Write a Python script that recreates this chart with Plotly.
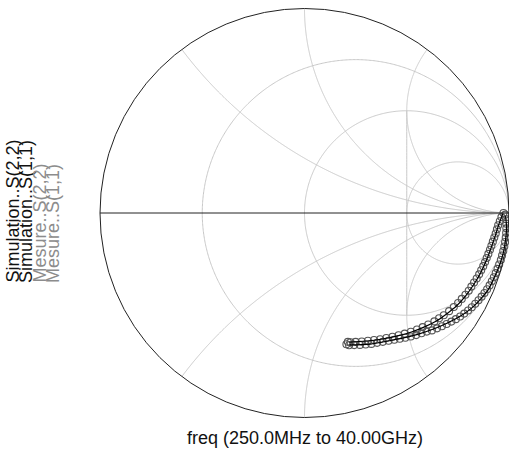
import numpy as np
import plotly.graph_objects as go

# Reflection coefficients (real, imag) from 250 MHz to 40 GHz
sim_s11_re = [0.970, 0.949, 0.934, 0.914, 0.890, 0.861, 0.826, 0.787, 0.743,
              0.694, 0.645, 0.587, 0.523, 0.455, 0.381, 0.303, 0.220]
sim_s11_im = [-0.003, -0.059, -0.108, -0.166, -0.230, -0.293, -0.352, -0.406, -0.455,
              -0.494, -0.528, -0.557, -0.582, -0.601, -0.616, -0.626, -0.631]

sim_s22_re = [0.983, 0.988, 0.983, 0.973, 0.954, 0.929, 0.900, 0.861, 0.817,
              0.763, 0.699, 0.631, 0.557, 0.484, 0.406, 0.323, 0.220]
sim_s22_im = [-0.015, -0.073, -0.132, -0.191, -0.254, -0.313, -0.372, -0.421, -0.465,
              -0.504, -0.538, -0.567, -0.592, -0.611, -0.626, -0.641, -0.645]

mes_s11_re = [0.973, 0.963, 0.955, 0.947, 0.941, 0.935, 0.928, 0.921, 0.914, 0.907,
              0.899, 0.891, 0.883, 0.874, 0.864, 0.854, 0.842, 0.829, 0.816, 0.803,
              0.787, 0.769, 0.751, 0.730, 0.707, 0.681, 0.658, 0.635, 0.605, 0.578,
              0.550, 0.520, 0.490, 0.460, 0.430, 0.400, 0.370, 0.340, 0.310, 0.280,
              0.250, 0.225, 0.212]
mes_s11_im = [0.000, -0.020, -0.040, -0.060, -0.080, -0.100, -0.120, -0.140, -0.160, -0.180,
              -0.200, -0.220, -0.240, -0.260, -0.280, -0.300, -0.320, -0.340, -0.360, -0.380,
              -0.400, -0.420, -0.440, -0.460, -0.480, -0.500, -0.515, -0.530, -0.545, -0.558,
              -0.570, -0.581, -0.590, -0.598, -0.605, -0.611, -0.617, -0.621, -0.625, -0.628,
              -0.630, -0.632, -0.630]

mes_s22_re = [0.982, 0.985, 0.987, 0.987, 0.986, 0.984, 0.981, 0.977, 0.972, 0.966,
              0.960, 0.952, 0.944, 0.935, 0.926, 0.916, 0.905, 0.893, 0.880, 0.866,
              0.851, 0.835, 0.818, 0.800, 0.781, 0.761, 0.740, 0.718, 0.695, 0.672,
              0.648, 0.623, 0.598, 0.572, 0.546, 0.520, 0.493, 0.466, 0.439, 0.411,
              0.383, 0.355, 0.327, 0.299, 0.271, 0.243, 0.218, 0.205]
mes_s22_im = [-0.008, -0.030, -0.052, -0.075, -0.097, -0.120, -0.142, -0.164, -0.186, -0.208,
              -0.230, -0.252, -0.273, -0.294, -0.314, -0.334, -0.354, -0.373, -0.391, -0.409,
              -0.427, -0.444, -0.461, -0.477, -0.492, -0.506, -0.519, -0.531, -0.543, -0.554,
              -0.564, -0.574, -0.580, -0.588, -0.597, -0.604, -0.610, -0.615, -0.620, -0.625,
              -0.630, -0.635, -0.640, -0.643, -0.645, -0.646, -0.647, -0.642]

# Smith grid values (normalized resistance / reactance)
resistance_grid = [1 / 3, 1, 3]
reactance_grid = [-2, -1, -0.5, 0.5, 1, 2]
# extra grid segment along Re(Gamma) = 0.5, between these Im(Gamma) limits
segment_re = 0.5
segment_im = [-0.5, 0.5]

legend_labels = ["Simulation..S(2,2)", "Simulation..S(1,1)", "Mesure..S(2,2)", "Mesure..S(1,1)"]
legend_colors = ["#111111", "#111111", "#8c8c8c", "#8c8c8c"]
x_title = "freq (250.0MHz to 40.00GHz)"

GRID = "#c8c8c8"


def gamma_to_z(g):
    g = np.asarray(g, dtype=complex)
    z = (1 + g) / (1 - g)
    return z.real, z.imag


def grid_trace(g):
    zr, zi = gamma_to_z(g)
    return go.Scattersmith(real=zr, imag=zi, mode="lines",
                           line=dict(color=GRID, width=1),
                           showlegend=False, hoverinfo="skip")


W, H = 509, 455
ML, MR, MT, MB = 100, 0, 8, 37
PW, PH = W - ML - MR, H - MT - MB

fig = go.Figure()

# constant-resistance circles
phi = np.linspace(0.004, 2 * np.pi - 0.004, 721)
for r in resistance_grid:
    c, rho = r / (1 + r), 1 / (1 + r)
    fig.add_trace(grid_trace(c + rho * np.exp(1j * phi)))

# constant-reactance arcs, from the outer rim to the open-circuit point
t = np.tan(np.linspace(0, np.pi / 2 - 0.002, 500))
for x in reactance_grid:
    z = t + 1j * x
    fig.add_trace(grid_trace((z - 1) / (z + 1)))

# straight segment at Re(Gamma) = 0.5
seg = segment_re + 1j * np.linspace(segment_im[0], segment_im[1], 60)
fig.add_trace(grid_trace(seg))

# measured data (open markers)
for re, im in [(mes_s11_re, mes_s11_im), (mes_s22_re, mes_s22_im)]:
    zr, zi = gamma_to_z(np.asarray(re) + 1j * np.asarray(im))
    fig.add_trace(go.Scattersmith(
        real=zr, imag=zi, mode="markers",
        marker=dict(symbol="circle-open", size=7, color="#555555", line=dict(width=1.1)),
        showlegend=False, hoverinfo="skip"))

# simulated data (solid lines)
for re, im in [(sim_s11_re, sim_s11_im), (sim_s22_re, sim_s22_im)]:
    zr, zi = gamma_to_z(np.asarray(re) + 1j * np.asarray(im))
    fig.add_trace(go.Scattersmith(
        real=zr, imag=zi, mode="lines", line=dict(color="#000000", width=1.2, shape="spline"),
        showlegend=False, hoverinfo="skip"))

fig.update_layout(
    width=W, height=H,
    margin=dict(l=ML, r=MR, t=MT, b=MB),
    paper_bgcolor="white",
    font=dict(family="Liberation Sans, Arial, sans-serif"),
    smith=dict(
        domain=dict(x=[0, 1], y=[0, 1]),
        bgcolor="white",
        realaxis=dict(showgrid=False, showticklabels=False, ticks="",
                      linecolor="#222222", linewidth=1),
        imaginaryaxis=dict(showgrid=False, showticklabels=False, ticks="",
                           linecolor="#222222", linewidth=1),
    ),
)

# Vertical legend labels down the left side
label_px = [12, 25.5, 39, 52.5]
for txt, col, px in zip(legend_labels, legend_colors, label_px):
    fig.add_annotation(
        text=txt, textangle=-90, showarrow=False,
        xref="paper", yref="paper",
        x=(px - ML) / PW, y=(H - MB - 285) / PH,
        xanchor="center", yanchor="bottom",
        font=dict(size=18, color=col))

fig.add_annotation(
    text=x_title, showarrow=False, xref="paper", yref="paper",
    x=(305 - ML) / PW, y=(H - MB - 438) / PH, xanchor="center", yanchor="middle",
    font=dict(size=18, color="#111111"))

fig.write_html("out.html")
